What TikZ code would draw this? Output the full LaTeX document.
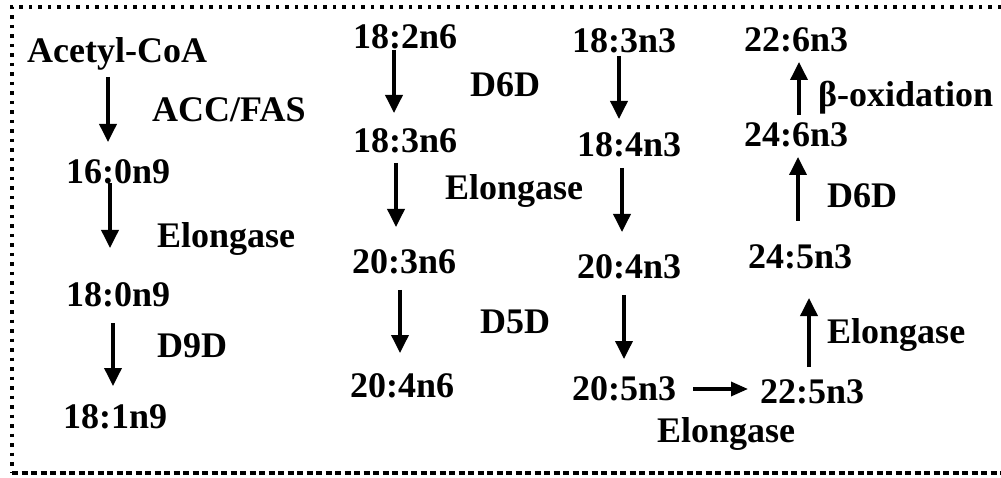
\documentclass[tikz,border=0pt]{standalone}
\usepackage{fontspec}
\setmainfont{Liberation Serif}
\usetikzlibrary{arrows.meta}

\tikzset{
  fa/.style={anchor=base west,inner sep=0pt,font=\fontsize{36}{40}\selectfont\bfseries},
  enz/.style={fa},
  conv/.style={line width=3.6pt,-{Triangle[length=18pt,width=17pt]}},
  frame/.style={line width=3.5pt}
}

\begin{document}
\begin{tikzpicture}[x=1pt,y=-1pt]
  \useasboundingbox (0,0) rectangle (1001,478);

  % dotted frame, open on the right
  \draw[frame,dash pattern=on 3.5pt off 6pt] (1001,7) -- (12,7) -- (12,473);
  \draw[frame,dash pattern=on 6pt off 3.5pt] (12,473) -- (1001,473);

  % de novo synthesis
  \node[fa] (acoa) at (27,63)  {Acetyl-CoA};
  \node[fa] (p160) at (66,184) {16:0n9};
  \node[fa] (p180) at (66,306) {18:0n9};
  \node[fa] (p181) at (63,428) {18:1n9};
  \node[enz] (accfas) at (152,122) {ACC/FAS};
  \node[enz] (elo1) at (157,248) {Elongase};
  \node[enz] (d9d) at (157,357) {D9D};

  % n-6 series
  \node[fa] (p182) at (353,49)  {18:2n6};
  \node[fa] (p183) at (353,153) {18:3n6};
  \node[fa] (p203) at (352,274) {20:3n6};
  \node[fa] (p204) at (350,397) {20:4n6};
  \node[enz] (d6d1) at (470,97)  {D6D};
  \node[enz] (elo2) at (445,200) {Elongase};
  \node[enz] (d5d) at (480,333) {D5D};

  % n-3 series
  \node[fa] (q183) at (572,53)  {18:3n3};
  \node[fa] (q184) at (577,157) {18:4n3};
  \node[fa] (q204) at (577,279) {20:4n3};
  \node[fa] (q205) at (572,400) {20:5n3};
  \node[enz] (elo3) at (657,442) {Elongase};

  \node[fa] (q226) at (744,52)  {22:6n3};
  \node[fa] (q246) at (744,147) {24:6n3};
  \node[fa] (q245) at (748,269) {24:5n3};
  \node[fa] (q225) at (760,403) {22:5n3};
  \node[enz] (boxi) at (818,107) {β-oxidation};
  \node[enz] (d6d2) at (827,208) {D6D};
  \node[enz] (elo4) at (827,343) {Elongase};

  % conversions
  \draw[conv] ([shift={(81,14)}]acoa.base west) -- ([shift={(42,-42)}]p160.base west);
  \draw[conv] ([shift={(44,-1)}]p160.base west) -- ([shift={(44,-58)}]p180.base west);
  \draw[conv] ([shift={(47,17)}]p180.base west) -- ([shift={(50,-42)}]p181.base west);

  \draw[conv] ([shift={(41,1)}]p182.base west) -- ([shift={(41,-40)}]p183.base west);
  \draw[conv] ([shift={(43,10)}]p183.base west) -- ([shift={(44,-47)}]p203.base west);
  \draw[conv] ([shift={(48,16)}]p203.base west) -- ([shift={(50,-44)}]p204.base west);

  \draw[conv] ([shift={(47,3)}]q183.base west) -- ([shift={(42,-38)}]q184.base west);
  \draw[conv] ([shift={(45,11)}]q184.base west) -- ([shift={(45,-47)}]q204.base west);
  \draw[conv] ([shift={(47,16)}]q204.base west) -- ([shift={(52,-41)}]q205.base west);

  \draw[conv,line width=3.3pt,-{Triangle[length=17pt,width=14pt]}]
    ([shift={(121,-11)}]q205.base west) -- ([shift={(-12,-14)}]q225.base west);
  \draw[conv] ([shift={(49,-36)}]q225.base west) -- ([shift={(61,29)}]q245.base west);
  \draw[conv] ([shift={(50,-48)}]q245.base west) -- ([shift={(54,10)}]q246.base west);
  \draw[conv] ([shift={(55,-32)}]q246.base west) -- ([shift={(55,10)}]q226.base west);
\end{tikzpicture}
\end{document}
